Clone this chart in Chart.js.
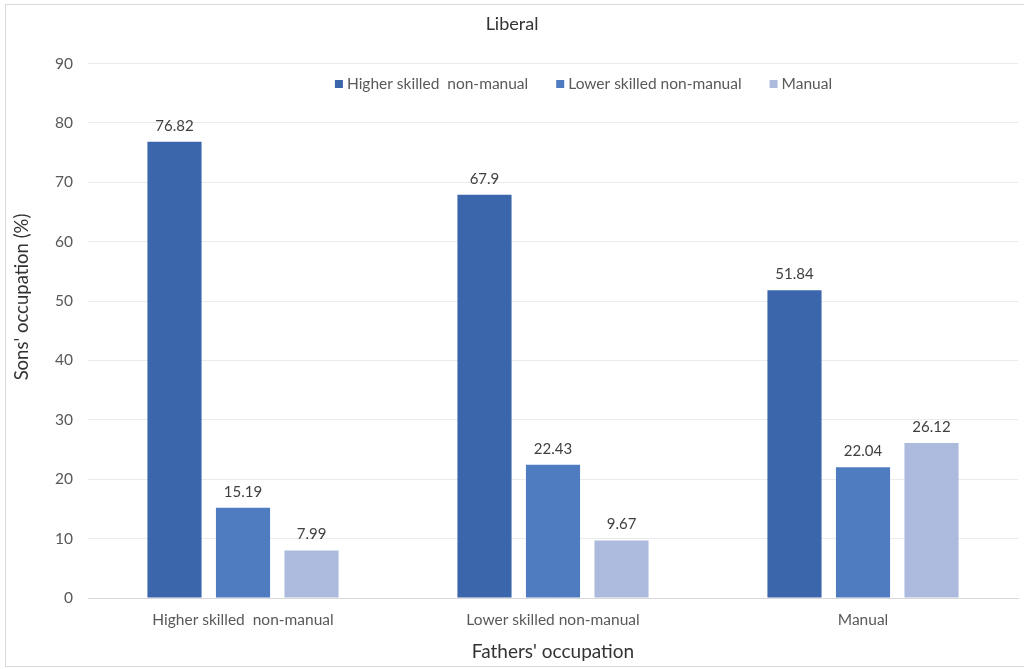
<!DOCTYPE html>
<html>
<head>
<meta charset="utf-8">
<script src="https://cdn.jsdelivr.net/npm/chart.js@4.4.0/dist/chart.umd.min.js"></script>
<style>
  html, body { margin: 0; padding: 0; background: #fff; overflow: hidden; }
  #wrap { position: absolute; left: 5px; top: 4px; width: 1048px; height: 661px; border: 1px solid #d9d9d9; }
</style>
</head>
<body>
<div id="wrap"><canvas id="chart" width="1048" height="661"></canvas></div>
<script>
// fathers' occupation on the x axis
var categories = ["Higher skilled  non-manual", "Lower skilled non-manual", "Manual"];
// sons' occupation series (%)
var higherSkilled = [76.82, 67.9, 51.84];
var lowerSkilled = [15.19, 22.43, 22.04];
var manual = [7.99, 9.67, 26.12];
var seriesNames = ["Higher skilled  non-manual", "Lower skilled non-manual", "Manual"];
var seriesColors = ["#3c66ac", "#4f7bc1", "#acbbdd"];

var FONT = "Lato, 'Open Sans', sans-serif";

// value above each bar
var valueLabels = {
    id: 'valueLabels',
    afterDatasetsDraw: function (chart) {
        var ctx = chart.ctx;
        ctx.save();
        ctx.font = "15px " + FONT;
        ctx.fillStyle = "#404040";
        ctx.textAlign = "center";
        ctx.textBaseline = "middle";
        chart.data.datasets.forEach(function (ds, i) {
            chart.getDatasetMeta(i).data.forEach(function (bar, j) {
                ctx.fillText(String(ds.data[j]), bar.x, bar.y - 16);
            });
        });
        ctx.restore();
    }
};

// legend row inside the plot, plus the y axis title (sits above centre in the original)
var extras = {
    id: 'extras',
    afterDraw: function (chart) {
        var ctx = chart.ctx;
        ctx.save();
        ctx.font = "15.5px " + FONT;
        ctx.textBaseline = "middle";
        var box = 8, gapText = 4, gapItem = 28;
        var widths = chart.data.datasets.map(function (ds) { return ctx.measureText(ds.label).width; });
        var total = 0;
        widths.forEach(function (w, i) { total += box + gapText + w + (i ? gapItem : 0); });
        var x = 577.5 - total / 2, y = 79;
        chart.data.datasets.forEach(function (ds, i) {
            ctx.fillStyle = ds.backgroundColor;
            ctx.fillRect(x, y - box / 2, box, box);
            ctx.fillStyle = "#595959";
            ctx.textAlign = "left";
            ctx.fillText(ds.label, x + box + gapText, y);
            x += box + gapText + widths[i] + gapItem;
        });

        ctx.font = "18.5px " + FONT;
        ctx.fillStyle = "#333333";
        ctx.textAlign = "center";
        ctx.translate(16, 292);
        ctx.rotate(-Math.PI / 2);
        ctx.fillText("Sons' occupation (%)", 0, 0);
        ctx.restore();
    }
};

var ctx = document.getElementById('chart').getContext('2d');
var chart = new Chart(ctx, {
    type: 'bar',
    data: {
        labels: categories,
        datasets: [
            { label: seriesNames[0], data: higherSkilled, backgroundColor: seriesColors[0] },
            { label: seriesNames[1], data: lowerSkilled, backgroundColor: seriesColors[1] },
            { label: seriesNames[2], data: manual, backgroundColor: seriesColors[2] }
        ]
    },
    options: {
        responsive: false,
        animation: false,
        devicePixelRatio: 1,
        layout: { padding: { left: 0, right: 36, top: 0, bottom: 0 } },
        datasets: { bar: { categoryPercentage: 0.663, barPercentage: 0.79 } },
        plugins: {
            title: {
                display: true,
                text: "Liberal",
                color: "#333333",
                font: { family: FONT, size: 18, weight: 'normal' },
                padding: { top: 8, bottom: 29 }
            },
            legend: { display: false },
            tooltip: { enabled: false }
        },
        scales: {
            x: {
                grid: { display: false, drawTicks: false },
                border: { color: "#d9d9d9" },
                ticks: { color: "#595959", font: { family: FONT, size: 15.5 }, padding: 13 },
                title: {
                    display: true,
                    text: "Fathers' occupation",
                    color: "#333333",
                    font: { family: FONT, size: 19 },
                    padding: { top: 3, bottom: 3 }
                },
                afterFit: function (scale) { scale.height = 68; }
            },
            y: {
                min: 0,
                max: 90,
                ticks: { stepSize: 10, color: "#595959", font: { family: FONT, size: 15.5 }, padding: 15 },
                grid: { color: "#ebebeb", drawTicks: false },
                border: { display: false },
                afterFit: function (scale) { scale.width = 82; }
            }
        }
    },
    plugins: [valueLabels, extras]
});
</script>
</body>
</html>
